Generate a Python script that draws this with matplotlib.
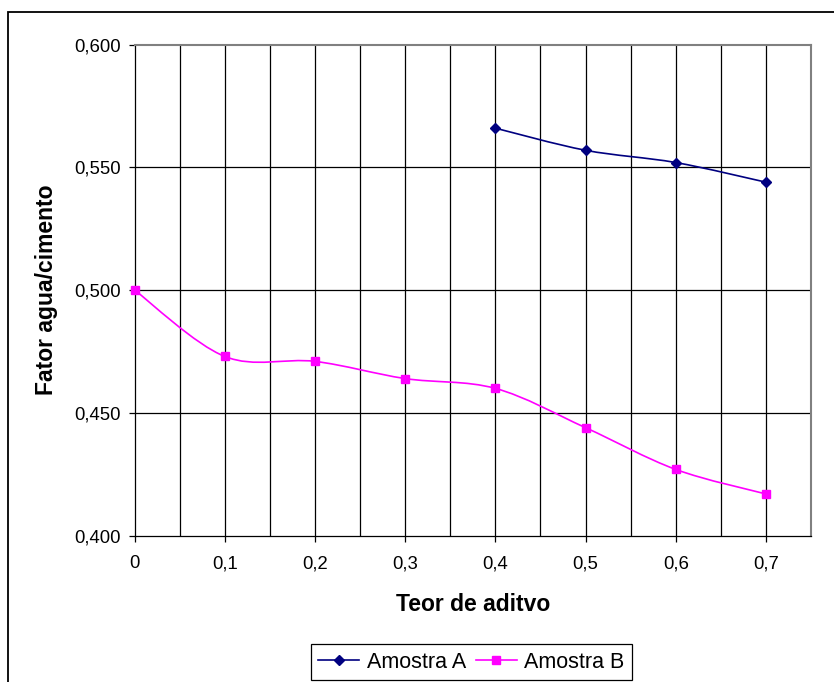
import matplotlib.pyplot as plt
import numpy as np
from matplotlib.path import Path
from matplotlib.patches import PathPatch, Rectangle
from matplotlib.lines import Line2D

plt.rcParams['font.family'] = ['Liberation Sans', 'DejaVu Sans']

teor_a = [0.4, 0.5, 0.6, 0.7]
fator_a = [0.566, 0.557, 0.552, 0.544]
teor_b = [0.0, 0.1, 0.2, 0.3, 0.4, 0.5, 0.6, 0.7]
fator_b = [0.500, 0.473, 0.471, 0.464, 0.460, 0.444, 0.427, 0.417]

x_ticks = [0, 0.1, 0.2, 0.3, 0.4, 0.5, 0.6, 0.7]
x_labels = ['0', '0,1', '0,2', '0,3', '0,4', '0,5', '0,6', '0,7']
y_ticks = [0.400, 0.450, 0.500, 0.550, 0.600]
y_labels = ['0,400', '0,450', '0,500', '0,550', '0,600']


def smooth_path(xs, ys):
    # excel style smoothed line: bezier segments through every point
    p = np.column_stack([xs, ys])
    n = len(p)
    verts = [p[0]]
    codes = [Path.MOVETO]
    for i in range(n - 1):
        p0 = p[i - 1] if i > 0 else p[i]
        p3 = p[i + 2] if i + 2 < n else p[i + 1]
        c1 = p[i] + (p[i + 1] - p0) / 6
        c2 = p[i + 1] - (p3 - p[i]) / 6
        verts += [c1, c2, p[i + 1]]
        codes += [Path.CURVE4] * 3
    return Path(verts, codes)


fig = plt.figure(figsize=(8.34, 6.82), dpi=100)
ax = fig.add_axes([134.7 / 834, 1 - 535.7 / 682, (811 - 134.7) / 834, 491 / 682])

# outer chart frame
fig.patches.append(Rectangle((8 / 834, -0.1), 1.2, 0.1 + 1 - 12 / 682, transform=fig.transFigure,
                             fill=False, edgecolor='black', linewidth=1.3, zorder=0))

for v in np.arange(0.05, 0.75, 0.05):
    ax.axvline(v, color='black', linewidth=0.9, zorder=1)
for v in y_ticks[1:-1]:
    ax.axhline(v, color='black', linewidth=0.9, zorder=1)

ax.add_patch(PathPatch(smooth_path(teor_a, fator_a), fill=False, edgecolor='#000080', linewidth=1.2, zorder=3))
ax.add_patch(PathPatch(smooth_path(teor_b, fator_b), fill=False, edgecolor='#FF00FF', linewidth=1.2, zorder=3))
ax.plot(teor_a, fator_a, linestyle='none', marker='D', markersize=4.8, color='#000080', zorder=4, clip_on=False)
ax.plot(teor_b, fator_b, linestyle='none', marker='s', markersize=5.6, color='#FF00FF', zorder=4, clip_on=False)

ax.set_xlim(0, 0.75)
ax.set_ylim(0.4, 0.6)
ax.set_xticks(x_ticks)
ax.set_xticklabels(x_labels)
ax.set_yticks(y_ticks)
ax.set_yticklabels(y_labels)
ax.tick_params(direction='out', length=4, width=0.9, color='black', labelsize=13.3)
ax.tick_params(axis='x', pad=10)
ax.tick_params(axis='y', pad=6)

for side in ['top', 'right']:
    ax.spines[side].set_color('#808080')
    ax.spines[side].set_linewidth(1.5)
for side in ['left', 'bottom']:
    ax.spines[side].set_color('black')
    ax.spines[side].set_linewidth(0.9)

ax.set_xlabel('Teor de aditvo', fontsize=16.5, fontweight='bold')
ax.set_ylabel('Fator agua/cimento', fontsize=16.5, fontweight='bold')
ax.xaxis.set_label_coords(0.5, -0.117)
ax.yaxis.set_label_coords(-0.114, 0.5)

handles = [Line2D([], [], color='#000080', marker='D', markersize=4.8, linewidth=1.2),
           Line2D([], [], color='#FF00FF', marker='s', markersize=5.6, linewidth=1.2)]
fig.legend(handles, ['Amostra A', 'Amostra B'], loc='center', bbox_to_anchor=(471.5 / 834, 1 - 662 / 682),
           ncol=2, fontsize=15.5, frameon=True, fancybox=False, edgecolor='black', framealpha=1,
           borderpad=0.35, handlelength=1.9, handletextpad=0.35, columnspacing=0.45, borderaxespad=0)
fig.legends[0].get_frame().set_linewidth(0.9)

fig.savefig('out.png', dpi=100)
